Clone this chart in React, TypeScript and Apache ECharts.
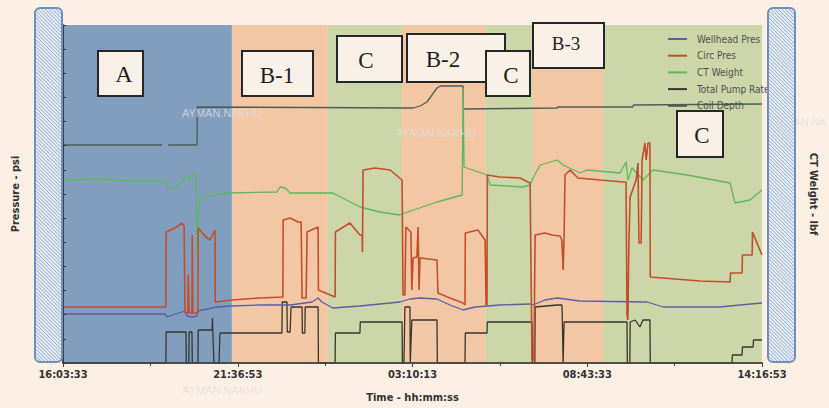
import React, { useEffect, useRef } from "react";
import * as echarts from "echarts";

// ---- axis / tick labels ----
const TICK_LABELS = ["16:03:33", "21:36:53", "03:10:13", "08:43:33", "14:16:53"];
const TICK_STEP_S = 20000; // 5:33:20 between labelled ticks
const SPAN_S = 80000; // 16:03:33 -> 14:16:53 next day

// ---- phases (hours since 16:03:33) ----
const PHASE_LABELS = ["A", "B-1", "C", "B-2", "C", "B-3", "C"];
const PHASE_KIND = ["A", "B", "C", "B", "C", "B", "C"];
const PHASE_START_H = [0, 5.37, 8.42, 10.78, 13.42, 14.94, 17.17];
const PHASE_END_H = [5.37, 8.42, 10.78, 13.42, 14.94, 17.17, 22.22];

// ---- series: [hours since start, value] ----
const WELLHEAD_PRES: [number, number][] = [
  [0, 980], [3.24, 980], [3.31, 920], [3.47, 960], [3.88, 1040], [3.94, 940], [4.1, 920], [4.26, 940],
  [4.29, 1040], [4.9, 1120], [5.37, 1140], [6.26, 1160], [7.22, 1160], [7.92, 1220], [8.11, 1300],
  [8.23, 1220], [8.58, 1100], [9.44, 1140], [10.71, 1220], [11.03, 1280], [11.35, 1300], [11.89, 1280],
  [12.3, 1160], [12.72, 1060], [13.1, 1120], [13.89, 1160], [14.85, 1180], [14.94, 1160], [15.32, 1260],
  [15.71, 1300], [16.44, 1240], [18.57, 1220], [19.08, 1120], [20.89, 1120], [21.52, 1160], [22.22, 1200],
];

const CIRC_PRES: [number, number][] = [
  [0, 1120], [3.27, 1120], [3.28, 2620], [3.56, 2700], [3.78, 2800], [3.85, 2740], [3.88, 1000], [3.97, 1000],
  [3.98, 1760], [4.01, 1000], [4.1, 1000], [4.11, 2560], [4.13, 1000], [4.29, 1000], [4.3, 2700], [4.51, 2540],
  [4.67, 2460], [4.83, 2660], [4.84, 1220], [5.37, 1260], [6.26, 1300], [6.99, 1320], [7.0, 2860], [7.22, 2900],
  [7.47, 2820], [7.57, 2820], [7.6, 1300], [7.73, 1300], [7.76, 2620], [8.11, 2720], [8.12, 1460], [8.65, 1320],
  [8.66, 2620], [9.12, 2800], [9.44, 2560], [9.51, 2560], [9.52, 2220], [9.54, 3860], [9.92, 3900], [10.4, 3860],
  [10.78, 3660], [10.81, 1360], [10.87, 1360], [10.9, 2720], [11.06, 2620], [11.09, 1460], [11.13, 2100],
  [11.25, 2120], [11.29, 2720], [11.32, 1460], [11.35, 2100], [11.89, 2060], [11.92, 1400], [12.3, 1300],
  [12.72, 1200], [12.78, 1160], [12.79, 2600], [13.19, 2660], [13.42, 2460], [13.45, 1160], [13.48, 1160],
  [13.49, 3760], [13.89, 3720], [14.53, 3700], [14.85, 3600], [14.91, 60], [14.97, 60], [15.01, 2560],
  [15.32, 2600], [15.55, 2560], [15.8, 2540], [15.86, 2460], [15.9, 1860], [15.93, 2460], [15.96, 3760],
  [16.12, 3860], [16.37, 3700], [17.07, 3660], [17.8, 3620], [17.9, 3620], [17.93, 960], [17.96, 860],
  [17.99, 2400], [18.03, 3320], [18.22, 3660], [18.28, 4000], [18.31, 2400], [18.38, 2400], [18.41, 4060],
  [18.5, 4400], [18.54, 4060], [18.6, 4400], [18.66, 4400], [18.67, 1720], [20.25, 1640], [21.21, 1620],
  [21.22, 1800], [21.59, 1800], [21.6, 2160], [21.91, 2160], [21.92, 2620], [22.22, 2160],
];

const CT_WEIGHT: [number, number][] = [
  [0, 36600], [1.18, 36800], [2.13, 36400], [3.24, 36400], [3.34, 35400], [3.47, 35000], [3.72, 35600],
  [3.91, 37400], [3.97, 37600], [4.04, 36600], [4.13, 38000], [4.23, 37400], [4.26, 22000], [4.32, 32600],
  [4.45, 33200], [5.21, 34000], [6.8, 34200], [6.9, 35200], [7.06, 35000], [7.22, 34000], [8.58, 34000],
  [9.44, 31200], [10.08, 30200], [10.71, 29600], [10.87, 30000], [11.89, 32200], [12.69, 33600],
  [12.72, 55000], [12.75, 39200], [13.48, 37600], [13.58, 35600], [14.62, 35200], [14.85, 35600],
  [14.94, 37000], [15.17, 39600], [15.71, 40600], [15.9, 39600], [16.44, 38000], [16.66, 38600],
  [17.71, 38000], [17.9, 40200], [17.96, 36600], [18.09, 39000], [18.44, 36600], [18.76, 38600],
  [19.84, 37600], [21.21, 36000], [21.36, 32000], [21.84, 32600], [22.22, 34600],
];

const PUMP_RATE: [number, number][] = [
  [0, 0], [3.27, 0], [3.28, 1.55], [3.91, 1.55], [3.92, 0], [4.0, 0], [4.01, 1.55], [4.1, 1.55], [4.11, 0],
  [4.29, 0], [4.3, 1.65], [4.74, 1.65], [4.75, 2.25], [4.77, 2.25], [4.78, 0.8], [4.8, 0], [4.96, 0],
  [4.99, 1.5], [6.96, 1.5], [6.97, 3.05], [7.12, 3.05], [7.13, 1.55], [7.22, 1.55], [7.25, 2.8], [7.6, 2.8],
  [7.61, 1.5], [7.69, 1.5], [7.7, 2.8], [8.11, 2.8], [8.12, 0], [8.65, 0], [8.66, 1.5], [9.44, 1.5],
  [9.45, 2.05], [10.78, 2.05], [10.79, 0], [10.84, 0], [10.87, 2.8], [11.03, 2.8], [11.04, 0], [11.09, 2.15],
  [11.89, 2.15], [11.9, 0], [12.78, 0], [12.79, 1.5], [13.48, 1.5], [13.49, 2.05], [14.91, 2.05], [14.92, 0],
  [15.0, 0], [15.01, 2.8], [15.71, 2.9], [15.86, 2.9], [15.87, 2.55], [15.9, 0], [15.93, 2.05], [17.93, 2.05],
  [17.94, 0], [18.02, 0], [18.03, 2.05], [18.19, 2.15], [18.34, 1.8], [18.44, 2.15], [18.66, 2.15],
  [18.67, 0], [21.27, 0], [21.28, 0.4], [21.59, 0.4], [21.6, 0.8], [21.94, 0.8], [21.95, 1.15], [22.22, 1.15],
];

const COIL_DEPTH: [number, number | string][] = [
  [0, 13080], [3.15, 13080], [3.24, "-"], [3.34, 13080], [4.26, 13080], [4.27, 15360], [11.13, 15300],
  [11.35, 15420], [11.57, 15660], [11.73, 16080], [11.89, 16500], [11.99, 16620], [12.72, 16620],
  [12.73, 15240], [15.71, 15300], [15.72, 15360], [18.12, 15360], [18.13, 15480], [22.22, 15540],
];

const WATERMARK = "AYMAN.NAKHU";
const WATERMARK_EDGE = "AYMAN.NA";

// ---- styling ----
const BG = "#fcefe4";
const BAND_COLORS: Record<string, string> = { A: "#819ebf", B: "#f3c7a4", C: "#cdd6a9" };
const NARROW = '"Liberation Sans Narrow", "DejaVu Sans Condensed", "Noto Sans", sans-serif';
const SERIF = '"Liberation Serif", "DejaVu Serif", serif';

const toS = (d: [number, number | string][]) => d.map(([h, v]) => [h * 3600, v]);

function hatchBar(x0: number, y0: number, x1: number, y1: number) {
  const els: any[] = [
    {
      type: "rect",
      shape: { x: x0, y: y0, width: x1 - x0, height: y1 - y0, r: 5 },
      style: { fill: "#e9eef5" },
      z: 60,
      silent: true,
    },
  ];
  const step = 3.6;
  for (let c = y0 - x1; c <= y1 - x0; c += step) {
    const sx = Math.max(x0 + 1, y0 + 1 - c);
    const ex = Math.min(x1 - 1, y1 - 1 - c);
    if (ex > sx) {
      els.push({
        type: "line",
        shape: { x1: sx, y1: sx + c, x2: ex, y2: ex + c },
        style: { stroke: "#8aa5c9", lineWidth: 1 },
        z: 61,
        silent: true,
      });
    }
  }
  els.push({
    type: "rect",
    shape: { x: x0, y: y0, width: x1 - x0, height: y1 - y0, r: 5 },
    style: { fill: "none", stroke: "#6f90bc", lineWidth: 2 },
    z: 62,
    silent: true,
  });
  return els;
}

function labelBox(
  text: string,
  x: number,
  y: number,
  w: number,
  h: number,
  tx: number,
  ty: number,
  size: number,
  z: number
) {
  return [
    {
      type: "rect",
      shape: { x, y, width: w, height: h },
      style: { fill: "#f9f0e7", stroke: "#262626", lineWidth: 2 },
      z,
      silent: true,
    },
    {
      type: "text",
      x: tx,
      y: ty,
      style: {
        text,
        fill: "#1e1e1e",
        font: `${size}px ${SERIF}`,
        align: "center",
        verticalAlign: "middle",
      },
      z: z + 1,
      silent: true,
    },
  ];
}

export default function App() {
  const ref = useRef<HTMLDivElement>(null);

  useEffect(() => {
    if (!ref.current) return;
    const chart = echarts.init(ref.current, undefined, { renderer: "svg" });

    const bands = PHASE_LABELS.map((_, i) => [
      { xAxis: PHASE_START_H[i] * 3600, itemStyle: { color: BAND_COLORS[PHASE_KIND[i]], opacity: 1 } },
      { xAxis: PHASE_END_H[i] * 3600 },
    ]);

    const wm = (text: string, x: number, y: number, align: string, size: number) => ({
      type: "text",
      x,
      y,
      style: {
        text,
        fill: "rgba(222,222,226,0.8)",
        font: `${size}px "Liberation Sans", Arial, sans-serif`,
        align,
        verticalAlign: "middle",
      },
      z: 5,
      silent: true,
    });

    const axisText = { fontFamily: NARROW, fontWeight: "bold" as const, fontSize: 11, color: "#333" };

    const lineSeries = (name: string, data: any[], color: string, yAxisIndex: number, width: number) => ({
      name,
      type: "line",
      data,
      yAxisIndex,
      color,
      symbol: "none",
      showSymbol: false,
      z: 3,
      connectNulls: false,
      lineStyle: { color, width },
      emphasis: { disabled: true },
    });

    chart.setOption({
      animation: false,
      backgroundColor: BG,
      grid: { left: 63, right: 67, top: 25, bottom: 45, containLabel: false },
      legend: {
        data: ["Wellhead Pres", "Circ Pres", "CT Weight", "Total Pump Rate", "Coil Depth"],
        orient: "vertical",
        left: 663,
        top: 28,
        icon: "rect",
        itemWidth: 19,
        itemHeight: 2,
        itemGap: 4.7,
        selectedMode: false,
        textStyle: {
          fontFamily: NARROW,
          fontSize: 10,
          lineHeight: 12,
          color: "#4e4e4e",
          padding: [0, 0, 0, 5],
        },
      },
      xAxis: [
        {
          type: "value",
          min: 0,
          max: SPAN_S,
          interval: TICK_STEP_S,
          position: "bottom",
          z: 10,
          name: "Time - hh:mm:ss",
          nameLocation: "middle",
          nameGap: 29,
          nameTextStyle: axisText,
          axisLine: { show: true, lineStyle: { color: "#3a3a3a", width: 1.5 } },
          axisTick: { show: true, inside: false, length: 4, lineStyle: { color: "#333" } },
          minorTick: { show: true, splitNumber: 2, length: 3, lineStyle: { color: "#333" } },
          splitLine: { show: false },
          axisLabel: {
            ...axisText,
            margin: 6,
            formatter: (v: number) => TICK_LABELS[Math.round(v / TICK_STEP_S)] ?? "",
          },
        },
        {
          type: "value",
          min: 0,
          max: SPAN_S,
          interval: TICK_STEP_S,
          position: "top",
          z: 10,
          axisLine: { show: true, lineStyle: { color: "#4a4a4a", width: 1.5 } },
          axisTick: { show: true, inside: true, length: 4, lineStyle: { color: "#444" } },
          minorTick: { show: true, splitNumber: 2, length: 3, lineStyle: { color: "#444" } },
          splitLine: { show: false },
          axisLabel: { show: false },
        },
      ],
      yAxis: [
        {
          type: "value",
          min: 0,
          max: 6760,
          interval: 6760 / 14,
          position: "left",
          z: 10,
          name: "Pressure - psi",
          nameLocation: "middle",
          nameGap: 42,
          nameTextStyle: axisText,
          axisLine: { show: true, lineStyle: { color: "#3a3a3a", width: 1.5 } },
          axisTick: { show: true, inside: true, length: 3, lineStyle: { color: "#333" } },
          splitLine: { show: false },
          axisLabel: { show: false },
        },
        {
          type: "value",
          min: 0,
          max: 67600,
          interval: 67600 / 14,
          position: "right",
          z: 10,
          name: "CT Weight - lbf",
          nameLocation: "middle",
          nameRotate: -90,
          nameGap: 46,
          nameTextStyle: axisText,
          axisLine: { show: true, lineStyle: { color: "#3a3a3a", width: 1.5 } },
          axisTick: { show: false },
          splitLine: { show: false },
          axisLabel: { show: false },
        },
        { type: "value", min: 0, max: 16.9, show: false },
        { type: "value", min: 0, max: 20280, show: false },
      ],
      series: [
        {
          name: "phases",
          type: "line",
          data: [],
          z: 1,
          silent: true,
          markArea: { silent: true, data: bands, label: { show: false } },
        },
        lineSeries("Coil Depth", toS(COIL_DEPTH), "#4d5d53", 3, 1.3),
        lineSeries("Total Pump Rate", toS(PUMP_RATE), "#36362c", 2, 1.3),
        lineSeries("Wellhead Pres", toS(WELLHEAD_PRES), "#5b5ea6", 0, 1.3),
        lineSeries("CT Weight", toS(CT_WEIGHT), "#5cb85a", 1, 1.3),
        lineSeries("Circ Pres", toS(CIRC_PRES), "#c24e2c", 0, 1.6),
      ],
      graphic: [
        wm(WATERMARK, 222, 113, "center", 11),
        wm(WATERMARK, 436, 133, "center", 11),
        wm(WATERMARK_EDGE, 772, 122, "left", 10.5),
        wm(WATERMARK, 222, 390, "center", 11),
        ...hatchBar(35, 8, 62, 362),
        ...hatchBar(768, 8, 795, 362),
        ...labelBox(PHASE_LABELS[0], 98, 51, 45, 45, 124, 74, 24, 80),
        ...labelBox(PHASE_LABELS[1], 242, 51, 71, 45, 277, 75, 23, 80),
        ...labelBox(PHASE_LABELS[2], 337, 36, 65, 46, 366, 60, 23, 80),
        ...labelBox(PHASE_LABELS[3], 407, 34, 98, 48, 443, 59, 23, 80),
        ...labelBox(PHASE_LABELS[4], 486, 51, 44, 45, 511, 75, 23, 84),
        ...labelBox(PHASE_LABELS[5], 533, 23, 71, 45, 566, 43, 19, 84),
        ...labelBox(PHASE_LABELS[6], 677, 111, 46, 46, 702, 135, 23, 84),
      ],
    });

    return () => chart.dispose();
  }, []);

  return (
    <div
      ref={ref}
      style={{ width: 829, height: 408, position: "absolute", left: 0, top: 0 }}
    />
  );
}
